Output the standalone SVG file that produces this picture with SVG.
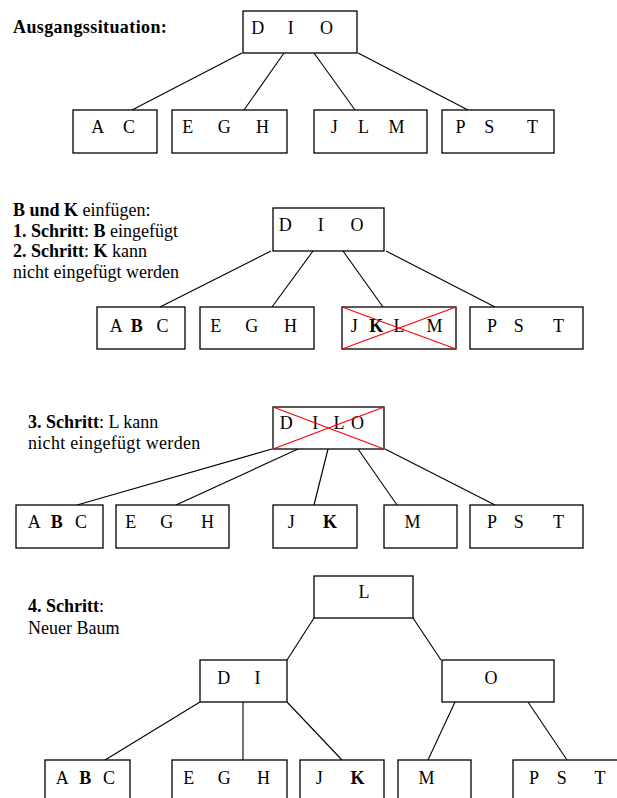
<svg xmlns="http://www.w3.org/2000/svg" width="617" height="798" viewBox="0 0 617 798" font-family="'Liberation Serif', 'DejaVu Serif', 'Times New Roman', Times, serif">
  <style>
    .box { fill: #fff; stroke: #000; stroke-width: 1.3; }
    .edge { stroke: #000; stroke-width: 1.1; fill: none; }
    .cross { stroke: #f00; stroke-width: 1.2; }
    .k { font-family: 'Liberation Serif', 'DejaVu Serif', 'Times New Roman', Times, serif; font-size: 18px; fill: #000; text-anchor: middle; }
    .note { font-family: 'Liberation Serif', 'DejaVu Serif', 'Times New Roman', Times, serif; font-size: 18px; fill: #000; }
    .b { font-weight: bold; }
  </style>
  <rect width="617" height="798" fill="#fff"/>

  <!-- captions -->
  <g id="captions">
    <text class="note b" x="13" y="33" letter-spacing="0.4">Ausgangssituation:</text>
    <text class="note" x="13" y="216"><tspan class="b">B und K</tspan> einfügen:</text>
    <text class="note" x="13" y="236.5"><tspan class="b">1. Schritt</tspan>: <tspan class="b">B</tspan> eingefügt</text>
    <text class="note" x="13" y="257"><tspan class="b">2. Schritt</tspan>: <tspan class="b">K</tspan> kann</text>
    <text class="note" x="13" y="278">nicht eingefügt werden</text>
    <text class="note" x="28" y="428"><tspan class="b">3. Schritt</tspan>: L kann</text>
    <text class="note" x="28" y="449" letter-spacing="0.3">nicht eingefügt werden</text>
    <text class="note" x="28" y="612"><tspan class="b">4. Schritt</tspan>:</text>
    <text class="note" x="28" y="634">Neuer Baum</text>
  </g>

  <!-- tree edges -->
  <g id="connectors">
    <!-- initial tree -->
    <line class="edge" x1="242" y1="53" x2="132" y2="110"/>
    <line class="edge" x1="284" y1="53" x2="244" y2="110"/>
    <line class="edge" x1="314" y1="53" x2="355" y2="110"/>
    <line class="edge" x1="358" y1="53" x2="468" y2="110"/>
    <!-- steps 1 and 2 -->
    <line class="edge" x1="271" y1="251" x2="160" y2="307"/>
    <line class="edge" x1="313" y1="251" x2="272" y2="307"/>
    <line class="edge" x1="343" y1="251" x2="383" y2="307"/>
    <line class="edge" x1="386" y1="251" x2="495" y2="307"/>
    <!-- step 3 -->
    <line class="edge" x1="272" y1="449" x2="77" y2="505"/>
    <line class="edge" x1="298" y1="449" x2="176" y2="505"/>
    <line class="edge" x1="328" y1="449" x2="314" y2="505"/>
    <line class="edge" x1="358" y1="449" x2="397" y2="505"/>
    <line class="edge" x1="385" y1="449" x2="495" y2="505"/>
    <!-- step 4 -->
    <line class="edge" x1="314" y1="618" x2="287" y2="660"/>
    <line class="edge" x1="413" y1="618" x2="441" y2="660"/>
    <line class="edge" x1="200" y1="702" x2="105" y2="760"/>
    <line class="edge" x1="243" y1="702" x2="243" y2="760"/>
    <line class="edge" x1="287" y1="702" x2="342" y2="760"/>
    <line class="edge" x1="455" y1="702" x2="428" y2="760"/>
    <line class="edge" x1="528" y1="702" x2="567" y2="760"/>
  </g>

  <!-- initial tree -->
  <g id="t0-root">
    <rect class="box" x="243" y="11" width="114" height="42"/>
    <text class="k" y="34"><tspan x="260">D</tspan> <tspan x="293">I</tspan> <tspan x="326.5">O</tspan></text>
  </g>
  <g id="t0-ac">
    <rect class="box" x="73" y="110" width="84" height="43"/>
    <text class="k" y="133"><tspan x="99.5">A</tspan> <tspan x="129">C</tspan></text>
  </g>
  <g id="t0-egh">
    <rect class="box" x="172" y="110" width="115" height="43"/>
    <text class="k" y="133"><tspan x="190">E</tspan> <tspan x="226.5">G</tspan> <tspan x="262.5">H</tspan></text>
  </g>
  <g id="t0-jlm">
    <rect class="box" x="314" y="110" width="113" height="43"/>
    <text class="k" y="133"><tspan x="336.5">J</tspan> <tspan x="365.5">L</tspan> <tspan x="396.5">M</tspan></text>
  </g>
  <g id="t0-pst">
    <rect class="box" x="442" y="110" width="112" height="43"/>
    <text class="k" y="133"><tspan x="462.5">P</tspan> <tspan x="491.5">S</tspan> <tspan x="532.5">T</tspan></text>
  </g>

  <!-- steps 1 and 2 -->
  <g id="t1-root">
    <rect class="box" x="273" y="208" width="111" height="43"/>
    <text class="k" y="230.5"><tspan x="287.5">D</tspan> <tspan x="323">I</tspan> <tspan x="357">O</tspan></text>
  </g>
  <g id="t1-abc">
    <rect class="box" x="97" y="307" width="88" height="42"/>
    <text class="k" y="331.5"><tspan x="118">A</tspan> <tspan class="b" x="139">B</tspan> <tspan x="162.5">C</tspan></text>
  </g>
  <g id="t1-egh">
    <rect class="box" x="200" y="307" width="114" height="42"/>
    <text class="k" y="331.5"><tspan x="218">E</tspan> <tspan x="254">G</tspan> <tspan x="290.5">H</tspan></text>
  </g>
  <g id="t1-jklm">
    <rect class="box" x="342" y="307" width="114" height="42"/>
    <text class="k" y="331.5"><tspan x="356.5">J</tspan> <tspan class="b" x="378.5">K</tspan> <tspan x="401">L</tspan> <tspan x="434.5">M</tspan></text>
    <line class="cross" x1="342" y1="307" x2="456" y2="349"/>
    <line class="cross" x1="342" y1="349" x2="456" y2="307"/>
  </g>
  <g id="t1-pst">
    <rect class="box" x="470" y="307" width="113" height="42"/>
    <text class="k" y="331.5"><tspan x="494">P</tspan> <tspan x="521">S</tspan> <tspan x="558.5">T</tspan></text>
  </g>

  <!-- step 3 -->
  <g id="t2-root">
    <rect class="box" x="273" y="407" width="111" height="42"/>
    <text class="k" y="429"><tspan x="288.5">D</tspan> <tspan x="317.5">I</tspan> <tspan x="339">L</tspan><tspan x="357.5">O</tspan></text>
    <line class="cross" x1="273" y1="407" x2="384" y2="449"/>
    <line class="cross" x1="273" y1="449" x2="384" y2="407"/>
  </g>
  <g id="t2-abc">
    <rect class="box" x="16" y="505" width="87" height="43"/>
    <text class="k" y="528"><tspan x="36">A</tspan> <tspan class="b" x="59">B</tspan> <tspan x="81">C</tspan></text>
  </g>
  <g id="t2-egh">
    <rect class="box" x="116" y="505" width="113" height="43"/>
    <text class="k" y="528"><tspan x="133">E</tspan> <tspan x="169">G</tspan> <tspan x="207.5">H</tspan></text>
  </g>
  <g id="t2-jk">
    <rect class="box" x="273" y="505" width="84" height="43"/>
    <text class="k" y="528"><tspan x="293.5">J</tspan> <tspan class="b" x="330">K</tspan></text>
  </g>
  <g id="t2-m">
    <rect class="box" x="384" y="505" width="73" height="43"/>
    <text class="k" y="528"><tspan x="412.5">M</tspan></text>
  </g>
  <g id="t2-pst">
    <rect class="box" x="470" y="505" width="113" height="43"/>
    <text class="k" y="528"><tspan x="494">P</tspan> <tspan x="521">S</tspan> <tspan x="558.5">T</tspan></text>
  </g>

  <!-- step 4: new tree -->
  <g id="t3-root">
    <rect class="box" x="314" y="576" width="99" height="42"/>
    <text class="k" y="598" x="364">L</text>
  </g>
  <g id="t3-di">
    <rect class="box" x="200" y="660" width="87" height="42"/>
    <text class="k" y="684"><tspan x="226">D</tspan> <tspan x="257.5">I</tspan></text>
  </g>
  <g id="t3-o">
    <rect class="box" x="442" y="660" width="112" height="42"/>
    <text class="k" y="684" x="491">O</text>
  </g>
  <g id="t3-abc">
    <rect class="box" x="45" y="760" width="85" height="50"/>
    <text class="k" y="784"><tspan x="64">A</tspan> <tspan class="b" x="87.5">B</tspan> <tspan x="109">C</tspan></text>
  </g>
  <g id="t3-egh">
    <rect class="box" x="172" y="760" width="115" height="50"/>
    <text class="k" y="784"><tspan x="191">E</tspan> <tspan x="226.5">G</tspan> <tspan x="263.5">H</tspan></text>
  </g>
  <g id="t3-jk">
    <rect class="box" x="300" y="760" width="84" height="50"/>
    <text class="k" y="784"><tspan x="321.5">J</tspan> <tspan class="b" x="357.5">K</tspan></text>
  </g>
  <g id="t3-m">
    <rect class="box" x="398" y="760" width="73" height="50"/>
    <text class="k" y="784"><tspan x="426.5">M</tspan></text>
  </g>
  <g id="t3-pst">
    <rect class="box" x="513" y="760" width="112" height="50"/>
    <text class="k" y="784"><tspan x="536">P</tspan> <tspan x="564">S</tspan> <tspan x="600">T</tspan></text>
  </g>
</svg>
